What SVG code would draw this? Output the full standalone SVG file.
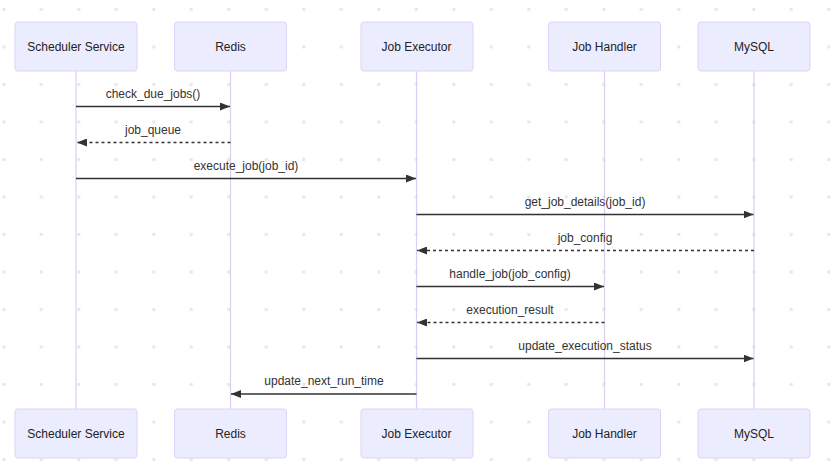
<svg xmlns="http://www.w3.org/2000/svg" width="834" height="474" viewBox="0 0 834 474">
<style>
.actor rect{fill:#ECECFF;stroke:#dcd3f5;stroke-width:1}
.actor text{font-family:"Liberation Sans",Arial,sans-serif;font-size:12px;fill:#222;text-anchor:middle;dominant-baseline:central}
.life{stroke:#dacef3;stroke-width:1.2}
.msg{stroke:#333;stroke-width:1.4;fill:none}
.dash{stroke-dasharray:3 3}
.lbl{font-family:"Liberation Sans",Arial,sans-serif;font-size:12px;fill:#333;text-anchor:middle}
</style>
<defs>
<pattern id="dots" patternUnits="userSpaceOnUse" width="37.5" height="37.5">
<rect x="2.3" y="8" width="3" height="3" fill="#e6e6e6"/>
</pattern>
<marker id="ah" viewBox="0 0 10 8" refX="10" refY="4" markerUnits="userSpaceOnUse" markerWidth="10" markerHeight="8" orient="auto">
<path d="M0,0 L10,4 L0,8 z" fill="#333"/>
</marker>
</defs>
<rect width="834" height="474" fill="#fff"/>
<rect width="834" height="474" fill="url(#dots)"/>
<g id="lifelines">
<line class="life" x1="76" y1="71" x2="76" y2="409"/>
<line class="life" x1="230.5" y1="71" x2="230.5" y2="409"/>
<line class="life" x1="416.5" y1="71" x2="416.5" y2="409"/>
<line class="life" x1="604.5" y1="71" x2="604.5" y2="409"/>
<line class="life" x1="754" y1="71" x2="754" y2="409"/>
</g>
<g id="scheduler-top" class="actor"><rect x="15" y="22" width="122" height="49" rx="3"/><text x="76" y="46.5">Scheduler Service</text></g>
<g id="redis-top" class="actor"><rect x="174.5" y="22" width="112" height="49" rx="3"/><text x="230.5" y="46.5">Redis</text></g>
<g id="executor-top" class="actor"><rect x="361" y="22" width="112" height="49" rx="3"/><text x="416.5" y="46.5">Job Executor</text></g>
<g id="handler-top" class="actor"><rect x="548.5" y="22" width="112" height="49" rx="3"/><text x="604.5" y="46.5">Job Handler</text></g>
<g id="mysql-top" class="actor"><rect x="698" y="22" width="112" height="49" rx="3"/><text x="754" y="46.5">MySQL</text></g>
<g id="scheduler-bottom" class="actor"><rect x="15" y="409" width="122" height="49" rx="3"/><text x="76" y="433.5">Scheduler Service</text></g>
<g id="redis-bottom" class="actor"><rect x="174.5" y="409" width="112" height="49" rx="3"/><text x="230.5" y="433.5">Redis</text></g>
<g id="executor-bottom" class="actor"><rect x="361" y="409" width="112" height="49" rx="3"/><text x="416.5" y="433.5">Job Executor</text></g>
<g id="handler-bottom" class="actor"><rect x="548.5" y="409" width="112" height="49" rx="3"/><text x="604.5" y="433.5">Job Handler</text></g>
<g id="mysql-bottom" class="actor"><rect x="698" y="409" width="112" height="49" rx="3"/><text x="754" y="433.5">MySQL</text></g>
<g id="connectors">
<line class="msg" x1="76" y1="106.5" x2="230" y2="106.5" marker-end="url(#ah)"/>
<text class="lbl" x="153" y="97.5">check_due_jobs()</text>
<line class="msg dash" x1="230.5" y1="142.5" x2="77" y2="142.5" marker-end="url(#ah)"/>
<text class="lbl" x="153" y="133.5">job_queue</text>
<line class="msg" x1="76" y1="178.5" x2="416" y2="178.5" marker-end="url(#ah)"/>
<text class="lbl" x="246" y="169.5">execute_job(job_id)</text>
<line class="msg" x1="416.5" y1="214.5" x2="753.5" y2="214.5" marker-end="url(#ah)"/>
<text class="lbl" x="585" y="205.5">get_job_details(job_id)</text>
<line class="msg dash" x1="754" y1="250.5" x2="417" y2="250.5" marker-end="url(#ah)"/>
<text class="lbl" x="585" y="241.5">job_config</text>
<line class="msg" x1="416.5" y1="286.5" x2="604" y2="286.5" marker-end="url(#ah)"/>
<text class="lbl" x="510" y="277.5">handle_job(job_config)</text>
<line class="msg dash" x1="604.5" y1="322.5" x2="417" y2="322.5" marker-end="url(#ah)"/>
<text class="lbl" x="510" y="313.5">execution_result</text>
<line class="msg" x1="416.5" y1="358.5" x2="753.5" y2="358.5" marker-end="url(#ah)"/>
<text class="lbl" x="585" y="349.5">update_execution_status</text>
<line class="msg" x1="416.5" y1="394" x2="231" y2="394" marker-end="url(#ah)"/>
<text class="lbl" x="324" y="385">update_next_run_time</text>
</g>
</svg>
